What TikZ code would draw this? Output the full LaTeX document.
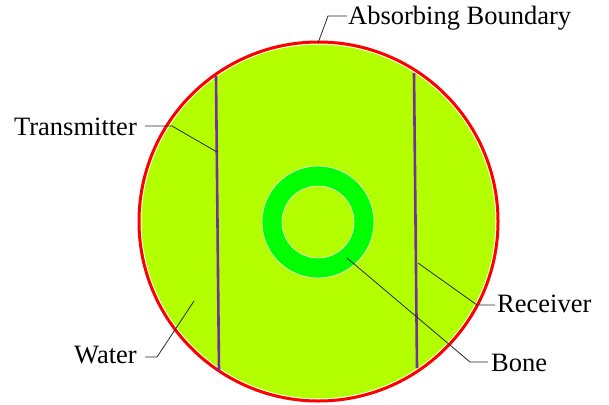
\documentclass[tikz,border=0pt]{standalone}
\usepackage{fontspec}
\setmainfont{Liberation Serif}
\definecolor{water}{RGB}{179,255,0}
\definecolor{bone}{RGB}{0,255,0}
\definecolor{probe}{RGB}{112,48,160}
\definecolor{lead}{RGB}{40,40,40}
\tikzset{
  lbl/.style={inner sep=0pt, font=\fontsize{26.5}{30}\selectfont},
  leader/.style={draw=lead, line width=0.8pt},
  probeline/.style={draw=probe, line width=2.6pt},
}
\begin{document}
\begin{tikzpicture}[x=1pt,y=-1pt]
\useasboundingbox (0,0) rectangle (609,404);
% water disc
\fill[water] (318.5,221.5) circle (178);
\draw[white, line width=1pt] (318.5,221.5) circle (177.5);
\draw[red, line width=3pt] (318.5,221.5) circle (179.5);
% bone ring
\fill[bone, even odd rule] (318,222) circle (56) (318,222) circle (36);
\draw[white, line width=0.6pt] (318,222) circle (56) (318,222) circle (36);
% transmitter and receiver
\coordinate (t1) at (216,76);
\coordinate (t2) at (219,371);
\coordinate (r1) at (414,73);
\coordinate (r2) at (417,368);
\draw[probeline] (t1) -- (t2);
\draw[probeline] (r1) -- (r2);
% labels
\node[lbl, anchor=base west] (ab) at (348,25) {Absorbing Boundary};
\node[lbl, anchor=base east] (tx) at (137,135) {Transmitter};
\node[lbl, anchor=base west] (rx) at (497,312) {Receiver};
\node[lbl, anchor=base west] (bn) at (491,371) {Bone};
\node[lbl, anchor=base east] (wt) at (137,363) {Water};
% leader points
\coordinate (abp) at (318,43);
\coordinate (abk) at (328,16);
\coordinate (txp) at (217,152);
\coordinate (txk) at (172,126);
\coordinate (rxp) at (418,263);
\coordinate (rxk) at (477,305);
\coordinate (bnp) at (347,258);
\coordinate (bnk) at (470,362);
\coordinate (wtp) at (194,301);
\coordinate (wtk) at (157,357);
% leaders
\draw[leader] (abp) -- (abk) -- ([xshift=-1pt]ab.west |- abk);
\draw[leader] (txp) -- (txk) -- ([xshift=8pt]tx.east |- txk);
\draw[leader] (rxp) -- (rxk) -- ([xshift=-2pt]rx.west |- rxk);
\draw[leader] (bnp) -- (bnk) -- ([xshift=-3pt]bn.west |- bnk);
\draw[leader] (wtp) -- (wtk) -- ([xshift=8pt]wt.east |- wtk);
\end{tikzpicture}
\end{document}
